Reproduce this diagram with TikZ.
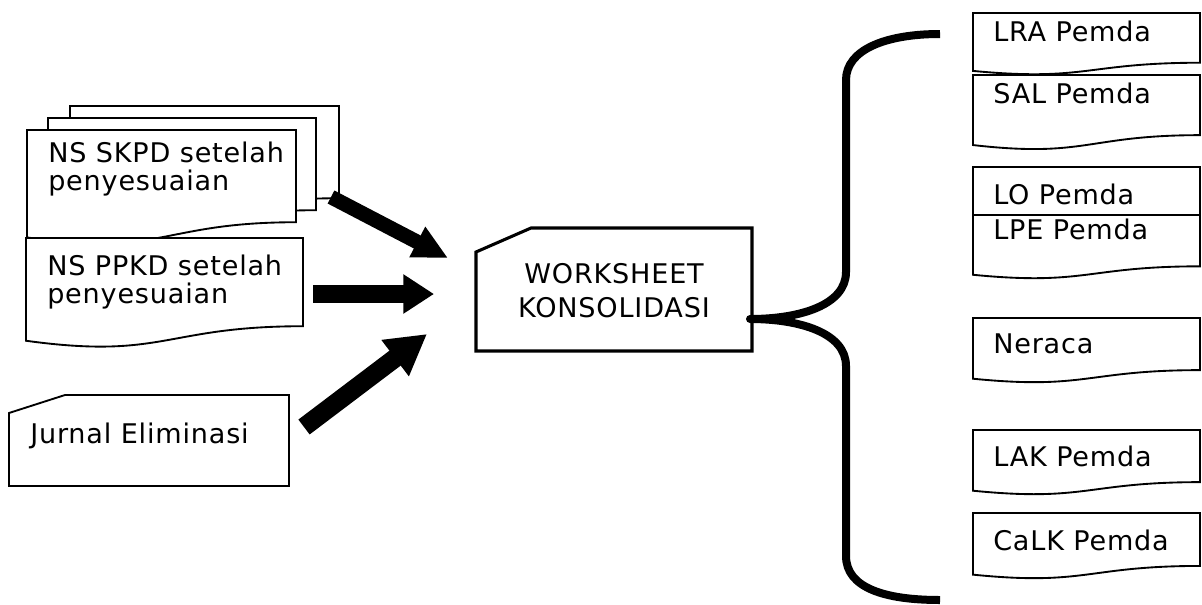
\documentclass[tikz,border=0pt]{standalone}
\usepackage{fontspec}
\setmainfont{DejaVu Sans}[LetterSpace=3]
\usetikzlibrary{arrows.meta}
\newcommand\docshape[5]{%
  \draw[#1] (#2,#3) -- (#2+#4,#3) -- (#2+#4,#3+0.802*#5)
    .. controls (#2+0.5*#4,#3+0.802*#5) and (#2+0.5*#4,#3+1.1075*#5) ..
    (#2,#3+0.934*#5) -- cycle;}
\begin{document}
\begin{tikzpicture}[x=0.75pt,y=-0.75pt,
  doc/.style={draw=black,line width=1.4pt,fill=white},
  lbl/.style={inner sep=0pt,anchor=base west,align=left,
    font=\fontsize{20.3}{21}\selectfont},
  blockarrow/.style n args={3}{line width=#1,-{Triangle[length=#2,width=#3]}},
  brace/.style={line width=6pt,line join=round}]
\useasboundingbox (0,0) rectangle (1202,604);

% ---- left: stacked NS SKPD documents
\docshape{doc}{70}{106}{269}{115}
\docshape{doc}{48}{118}{268}{115}
\docshape{doc}{27}{130}{269}{115}
\node[lbl] (skpd) at (48,190) {NS SKPD setelah\\penyesuaian};

% ---- NS PPKD
\docshape{doc}{26}{238}{277}{110}
\node[lbl] (ppkd) at (47,303) {NS PPKD setelah\\penyesuaian};

% ---- Jurnal Eliminasi (card)
\draw[doc] (9,413) -- (65,395) -- (289,395) -- (289,486) -- (9,486) -- cycle;
\node[lbl] (jurnal) at (30,443) {Jurnal Eliminasi};

% ---- Worksheet (card)
\draw[draw=black,line width=2.3pt,fill=white] (476,252) -- (531,228) -- (752,228) -- (752,351) -- (476,351) -- cycle;
\node[inner sep=0pt,anchor=base,align=center,
  font=\fontsize{20.3}{25.5}\selectfont] (ws) at (614,317) {WORKSHEET\\KONSOLIDASI};

% ---- block arrows
\coordinate (a1s) at (331,197); \coordinate (a1e) at (448,258);
\coordinate (a2s) at (313,294); \coordinate (a2e) at (434,294);
\coordinate (a3s) at (304,427); \coordinate (a3e) at (427,334);
\draw[blockarrow={11pt}{26pt}{24pt}] (a1s) -- (a1e);
\draw[blockarrow={13.5pt}{23pt}{28pt}] (a2s) -- (a2e);
\draw[blockarrow={14pt}{30pt}{32pt}] (a3s) -- (a3e);

% ---- brace
\coordinate (tip) at (750,319);
\coordinate (btop) at (940,34);
\coordinate (bbot) at (940,600);
\draw[brace] (btop) .. controls (885,34) and (846,50) .. (846,80)
  -- (846,272) .. controls (846,305) and (800,319) .. (tip)
  .. controls (800,319) and (846,333) .. (846,366)
  -- (846,556) .. controls (846,588) and (885,600) .. (bbot);

% ---- right: output documents
\docshape{doc}{973}{13}{227}{62}
\node[lbl] (lra) at (993,41.7) {LRA Pemda};
\docshape{doc}{973}{75}{227}{75}
\node[lbl] (sal) at (993,103) {SAL Pemda};
\draw[doc] (973,167) rectangle (1200,215);
\node[lbl] (lo) at (993,204) {LO Pemda};
\docshape{doc}{973}{215}{227}{64}
\node[lbl] (lpe) at (993,239) {LPE Pemda};
\docshape{doc}{973}{318}{227}{65}
\node[lbl] (neraca) at (993,353) {Neraca};
\docshape{doc}{973}{430}{227}{65}
\node[lbl] (lak) at (993,466) {LAK Pemda};
\docshape{doc}{973}{513}{227}{66}
\node[lbl] (calk) at (993,550) {CaLK Pemda};
\end{tikzpicture}
\end{document}
